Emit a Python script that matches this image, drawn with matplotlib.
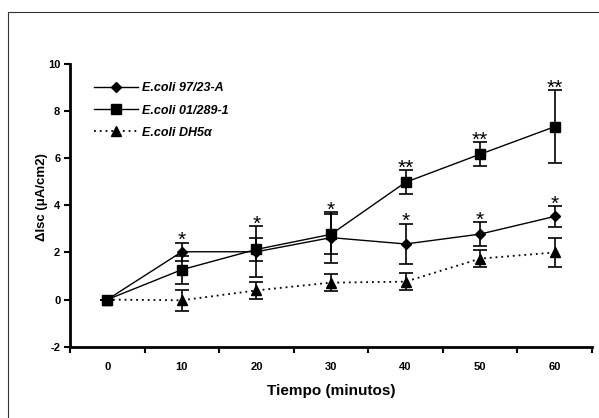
import numpy as np
import matplotlib
matplotlib.use('Agg')
import matplotlib.pyplot as plt
from matplotlib.patches import Rectangle

plt.rcParams['font.family'] = ['Liberation Sans', 'DejaVu Sans']
plt.rcParams['axes.unicode_minus'] = False

# Data
tiempo = [0, 10, 20, 30, 40, 50, 60]

isc_9723 = [0, 2.03, 2.03, 2.63, 2.36, 2.78, 3.53]
err_9723 = [0, 0.39, 1.08, 1.07, 0.86, 0.50, 0.43]
stars_9723 = ['', '*', '*', '*', '*', '*', '*']

isc_01289 = [0, 1.27, 2.13, 2.77, 4.98, 6.17, 7.34]
err_01289 = [0, 0.60, 0.50, 0.85, 0.50, 0.50, 1.55]
stars_01289 = ['', '', '', '', '**', '**', '**']

isc_dh5a = [0, -0.03, 0.39, 0.72, 0.76, 1.74, 2.00]
err_dh5a = [0, 0.45, 0.37, 0.35, 0.35, 0.35, 0.60]

labels = ['E.coli 97/23-A', 'E.coli 01/289-1', 'E.coli DH5α']

fig = plt.figure(figsize=(5.99, 4.18), dpi=100)
ax = fig.add_axes([70 / 599, 1 - 346.7 / 418, 522 / 599, 282.7 / 418])

# outer frame (only left/top edges visible in the original)
fig.patches.append(Rectangle((8 / 599, -0.2), 1.5, 0.2 + 1 - 12 / 418,
                             transform=fig.transFigure, fill=False,
                             edgecolor='#333333', linewidth=0.8))

ax.errorbar(tiempo, isc_9723, yerr=err_9723, color='black', marker='D',
            markersize=5.5, linewidth=1, capsize=5, elinewidth=1.2,
            capthick=1.2, label=labels[0])
ax.errorbar(tiempo, isc_01289, yerr=err_01289, color='black', marker='s',
            markersize=7, linewidth=1, capsize=5, elinewidth=1.2,
            capthick=1.2, label=labels[1])
ax.errorbar(tiempo, isc_dh5a, yerr=err_dh5a, color='black', marker='^',
            markersize=7, linewidth=1.3, linestyle=(0, (1, 2.2)), capsize=5,
            elinewidth=1.2, capthick=1.2, label=labels[2])

# significance stars
for x, y, e, s in zip(tiempo, isc_9723, err_9723, stars_9723):
    if s:
        ax.annotate(s, (x, y + e), xytext=(0, -2.5), textcoords='offset points',
                    ha='center', va='baseline', fontsize=15)
for x, y, e, s in zip(tiempo, isc_01289, err_01289, stars_01289):
    if s:
        ax.annotate(s, (x, y + e), xytext=(0, -2.5), textcoords='offset points',
                    ha='center', va='baseline', fontsize=15)

ax.set_xlim(-5, 65)
ax.set_ylim(-2, 10)
ax.set_xticks(tiempo)
ax.set_xticks(np.arange(-5, 66, 10), minor=True)
ax.set_yticks(np.arange(-2, 11, 2))
ax.tick_params(axis='x', which='major', length=0, pad=11, labelsize=8)
ax.tick_params(axis='x', which='minor', length=4, width=1.5, direction='out')
ax.tick_params(axis='y', length=4, width=1.5, pad=3, labelsize=8)
for lab in ax.get_xticklabels() + ax.get_yticklabels():
    lab.set_fontweight('bold')

for side in ['top', 'right']:
    ax.spines[side].set_visible(False)
for side in ['left', 'bottom']:
    ax.spines[side].set_linewidth(2)

ax.set_xlabel('Tiempo (minutos)', fontsize=11, fontweight='bold')
ax.xaxis.set_label_coords(0.5, -0.132)
ax.set_ylabel('ΔIsc (μA/cm2)', fontsize=9.5, fontweight='bold', va='center')
ax.yaxis.set_label_coords(-0.054, 0.53)

handles, labs = ax.get_legend_handles_labels()
handles = [h[0] for h in handles]
ax.legend(handles, labs, loc='upper left', bbox_to_anchor=(0.025, 0.975),
          frameon=False, handlelength=3.5, handletextpad=0.3,
          labelspacing=0.82, prop={'weight': 'bold', 'style': 'italic',
                                   'size': 9})

fig.savefig('out.png', dpi=100)
